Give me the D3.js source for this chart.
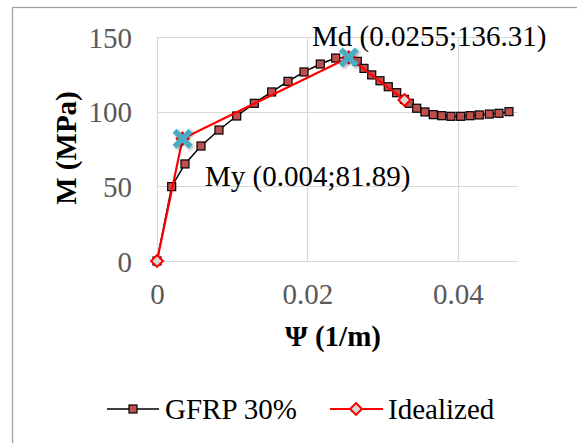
<!DOCTYPE html>
<html>
<head>
<meta charset="utf-8">
<script src="https://cdn.jsdelivr.net/npm/d3@7"></script>
<style>
  body { margin: 0; background: #fff; }
  text { font-family: "Liberation Serif", "Times New Roman", serif; }
</style>
</head>
<body>
<div id="chart"></div>
<script>
// data
var gfrpX = [0, 0.00195, 0.00372, 0.00585, 0.00824, 0.0106, 0.01294, 0.01525, 0.01742, 0.01955,
             0.02171, 0.02376, 0.0255, 0.02663, 0.02752, 0.02855, 0.02965, 0.03075, 0.03187, 0.0329,
             0.03355, 0.03453, 0.03563, 0.03674, 0.03786, 0.03909, 0.04038, 0.04162, 0.04285, 0.04418,
             0.04547, 0.0468];
var gfrpY = [0, 49.8, 65.0, 77.0, 87.7, 97.1, 105.6, 113.2, 120.3, 126.6,
             131.9, 135.9, 136.31, 133.7, 129.0, 124.6, 120.7, 116.7, 112.7, 108.2,
             105.6, 102.3, 99.8, 98.0, 97.3, 96.9, 96.9, 97.3, 97.8, 98.4,
             98.9, 100.0];
var idealX = [0, 0.0034, 0.0255, 0.0329];
var idealY = [0, 81.89, 136.31, 107.8];
var keyX = [0.0034, 0.0255];
var keyY = [81.89, 136.31];
var keyLabels = ["My (0.004;81.89)", "Md (0.0255;136.31)"];
var xTicks = [0, 0.02, 0.04];
var yTicks = [0, 50, 100, 150];
var seriesNames = ["GFRP 30%", "Idealized"];

var width = 577, height = 443, fs = 29;
var svg = d3.select('#chart').append('svg')
    .attr('width', width)
    .attr('height', height);

var defs = svg.append('defs');
var f = defs.append('filter').attr('id', 'shadow').attr('x', '-50%').attr('y', '-50%').attr('width', '200%').attr('height', '200%');
f.append('feDropShadow').attr('dx', 1.5).attr('dy', 1.5).attr('stdDeviation', 1.5).attr('flood-color', '#000').attr('flood-opacity', 0.35);

// chart border (runs off the right and bottom of the picture)
svg.append('rect')
    .attr('x', 12.5).attr('y', 7.5)
    .attr('width', 700).attr('height', 600)
    .attr('fill', 'none').attr('stroke', '#a0a0a0').attr('stroke-width', 1.3);

var x = d3.scaleLinear().domain([0, 0.048]).range([157, 518]);
var y = d3.scaleLinear().domain([0, 150]).range([261, 37]);

// gridlines
svg.append('g').selectAll('line.h').data(yTicks).enter().append('line')
    .attr('x1', x.range()[0]).attr('x2', x.range()[1])
    .attr('y1', d => Math.round(y(d)) + 0.5).attr('y2', d => Math.round(y(d)) + 0.5)
    .attr('stroke', '#d9d9d9').attr('stroke-width', 1.2);
svg.append('g').selectAll('line.v').data(xTicks).enter().append('line')
    .attr('y1', y.range()[0]).attr('y2', y.range()[1])
    .attr('x1', d => Math.round(x(d)) + 0.5).attr('x2', d => Math.round(x(d)) + 0.5)
    .attr('stroke', '#d9d9d9').attr('stroke-width', 1.2);

// axes labels via d3 axes with no lines
var xAxis = svg.append('g')
    .attr('transform', 'translate(0,' + y(0) + ')')
    .call(d3.axisBottom(x).tickValues(xTicks).tickSize(0).tickPadding(22).tickFormat(d => d === 0 ? '0' : d3.format('.2f')(d)));
var yAxis = svg.append('g')
    .attr('transform', 'translate(' + x(0) + ',0)')
    .call(d3.axisLeft(y).tickValues(yTicks).tickSize(0).tickPadding(25));
[xAxis, yAxis].forEach(function(a){
  a.select('.domain').remove();
  a.selectAll('text').attr('font-family', '"Liberation Serif", serif').attr('font-size', fs).attr('fill', '#595959');
});
yAxis.selectAll('text').attr('dy', '0.35em');

// axis titles
svg.append('text')
    .attr('x', 333).attr('y', 346)
    .attr('text-anchor', 'middle')
    .attr('font-size', fs).attr('font-weight', 'bold')
    .text('\u03A8 (1/m)');
svg.append('text')
    .attr('transform', 'translate(76,148) rotate(-90)')
    .attr('text-anchor', 'middle')
    .attr('font-size', fs).attr('font-weight', 'bold')
    .text('M (MPa)');

var gfrp = gfrpX.map((d, i) => ({x: d, y: gfrpY[i]}));
var ideal = idealX.map((d, i) => ({x: d, y: idealY[i]}));
var keys = keyX.map((d, i) => ({x: d, y: keyY[i], label: keyLabels[i]}));

var line = d3.line().x(d => x(d.x)).y(d => y(d.y));

// GFRP series
svg.append('path').datum(gfrp)
    .attr('d', line).attr('fill', 'none')
    .attr('stroke', '#000').attr('stroke-width', 1.5);
svg.append('g').selectAll('rect').data(gfrp).enter().append('rect')
    .attr('x', d => x(d.x) - 4).attr('y', d => y(d.y) - 4)
    .attr('width', 8).attr('height', 8)
    .attr('fill', '#c0504d').attr('stroke', '#000').attr('stroke-width', 1.2);

// Idealized series
var diamond = d3.symbol().type(d3.symbolDiamond2).size(90);
svg.append('path').datum(ideal)
    .attr('d', line).attr('fill', 'none')
    .attr('stroke', '#ff0000').attr('stroke-width', 2.2);
svg.append('g').selectAll('path').data(ideal).enter().append('path')
    .attr('d', diamond)
    .attr('transform', d => 'translate(' + x(d.x) + ',' + y(d.y) + ')')
    .attr('fill', '#d9d9d9').attr('stroke', '#ff0000').attr('stroke-width', 2);

// key points (My, Md)
var cross = d3.symbol().type(d3.symbolX).size(170);
svg.append('g').selectAll('path').data(keys).enter().append('path')
    .attr('d', cross)
    .attr('transform', d => 'translate(' + x(d.x) + ',' + y(d.y) + ')')
    .attr('fill', 'none').attr('stroke', '#4bacc6').attr('stroke-width', 5.5)
    .attr('filter', 'url(#shadow)');

svg.append('text').attr('x', 205).attr('y', 186)
    .attr('font-size', fs).attr('fill', '#000')
    .text(keys[0].label);
svg.append('text').attr('x', 312).attr('y', 46)
    .attr('font-size', fs).attr('fill', '#000')
    .text(keys[1].label);

// legend
var lg = svg.append('g').attr('transform', 'translate(0,409)');
lg.append('line').attr('x1', 107).attr('x2', 159).attr('stroke', '#000').attr('stroke-width', 1.5);
lg.append('rect').attr('x', 129).attr('y', -4).attr('width', 8).attr('height', 8)
    .attr('fill', '#c0504d').attr('stroke', '#000').attr('stroke-width', 1.2);
lg.append('text').attr('x', 165).attr('y', 0).attr('dy', '0.35em').attr('font-size', fs).text(seriesNames[0]);
lg.append('line').attr('x1', 330).attr('x2', 383).attr('stroke', '#ff0000').attr('stroke-width', 2.2);
lg.append('path').attr('d', diamond).attr('transform', 'translate(356,0)')
    .attr('fill', '#d9d9d9').attr('stroke', '#ff0000').attr('stroke-width', 2);
lg.append('text').attr('x', 388).attr('y', 0).attr('dy', '0.35em').attr('font-size', fs).text(seriesNames[1]);
</script>
</body>
</html>
